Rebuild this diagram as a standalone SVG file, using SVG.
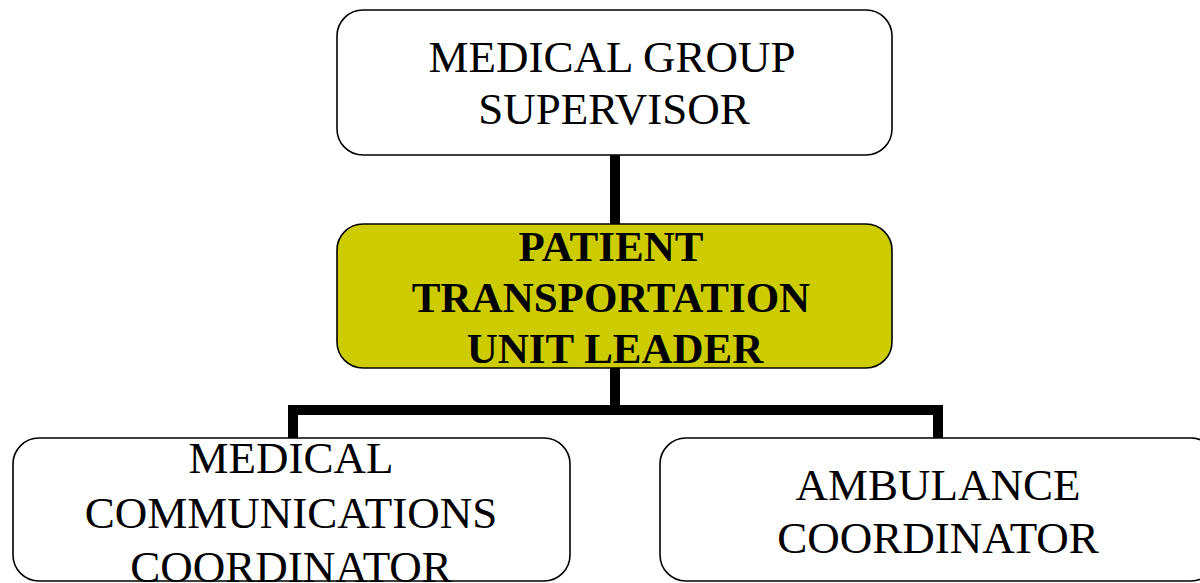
<svg xmlns="http://www.w3.org/2000/svg" width="1200" height="583" viewBox="0 0 1200 583">
<style>
.box{fill:#fff;stroke:#000;stroke-width:1.6}
.hl{fill:#cccc00;stroke:#000;stroke-width:1.6}
.t{font-family:"Liberation Serif","Times New Roman",serif;font-size:45px;text-anchor:middle;fill:#000}
.b{font-family:"Liberation Serif","Times New Roman",serif;font-size:43px;font-weight:bold;text-anchor:middle;fill:#000}
.c{fill:none;stroke:#000;stroke-width:10;stroke-linecap:butt;stroke-linejoin:miter}
</style>
<rect width="1200" height="583" fill="#fff"/>
<g id="connectors">
<path class="c" d="M615 152V226"/>
<path class="c" d="M615 367V410"/>
<path class="c" d="M293 440V410H938V440"/>
</g>
<g id="supervisor">
<rect class="box" x="337" y="10" width="555" height="145" rx="26"/>
<text class="t" x="612" y="72">MEDICAL GROUP</text>
<text class="t" x="614" y="124">SUPERVISOR</text>
</g>
<g id="leader">
<rect class="hl" x="337" y="224" width="555" height="144" rx="26"/>
<text class="b" x="611" y="261">PATIENT</text>
<text class="b" x="611" y="312">TRANSPORTATION</text>
<text class="b" x="615" y="363">UNIT LEADER</text>
</g>
<g id="medcomm">
<rect class="box" x="13" y="438" width="557" height="143" rx="26"/>
<text class="t" x="291" y="473">MEDICAL</text>
<text class="t" x="291" y="528">COMMUNICATIONS</text>
<text class="t" x="291" y="582">COORDINATOR</text>
</g>
<g id="ambulance">
<rect class="box" x="660" y="438" width="557" height="143" rx="26"/>
<text class="t" x="938" y="500">AMBULANCE</text>
<text class="t" x="938" y="553">COORDINATOR</text>
</g>
</svg>
